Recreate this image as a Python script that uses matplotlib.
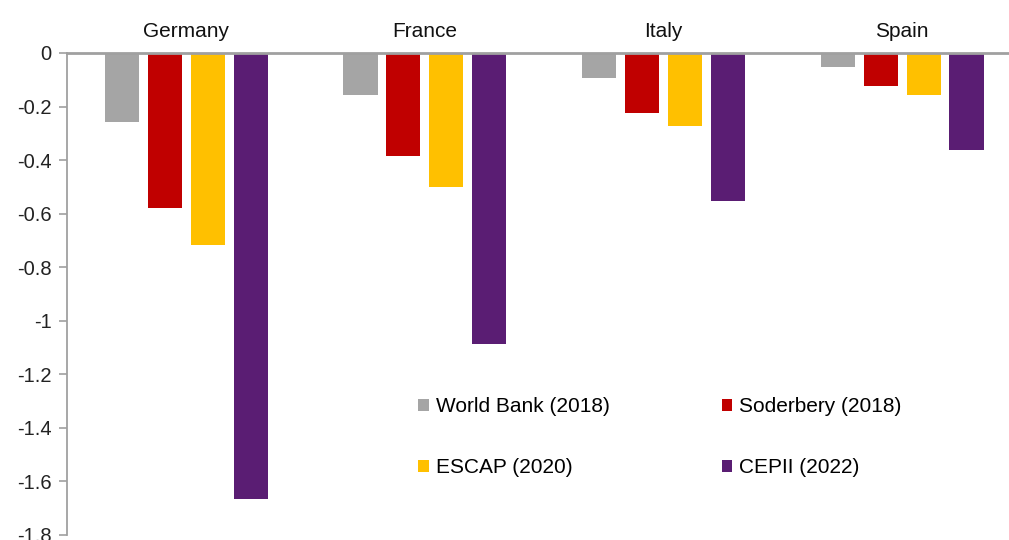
import matplotlib.pyplot as plt
import numpy as np
from matplotlib.patches import Patch

plt.rcParams["font.family"] = ["Liberation Sans", "DejaVu Sans"]

# --- data ----------------------------------------------------------------------
countries = ["Germany", "France", "Italy", "Spain"]
series = ["World Bank (2018)", "Soderbery (2018)", "ESCAP (2020)", "CEPII (2022)"]
world_bank = [-0.256, -0.157, -0.094, -0.051]
soderbery = [-0.577, -0.384, -0.223, -0.123]
escap = [-0.716, -0.499, -0.272, -0.157]
cepii = [-1.665, -1.086, -0.552, -0.362]
yticks = [0, -0.2, -0.4, -0.6, -0.8, -1, -1.2, -1.4, -1.6, -1.8]

colours = ["#A5A5A5", "#C00000", "#FFC000", "#5A1D73"]
values = [world_bank, soderbery, escap, cepii]

W, H = 1009, 540
fig = plt.figure(figsize=(W / 100, H / 100), dpi=100)
# axes runs off the right edge on purpose (the last group sits near the border)
ax = fig.add_axes([67 / W, 5 / H, 1.0, 482 / H])

x = np.arange(len(countries))
step, width = 0.18, 0.143
for i, (vals, col) in enumerate(zip(values, colours)):
    ax.bar(x + (i - 1.5) * step, vals, width=width, color=col, zorder=3)

ax.set_xlim(-0.5, -0.5 + W / 238.6)
ax.set_ylim(-1.8, 0)

ax.set_yticks(yticks)
ax.set_yticklabels([f"{t:g}" for t in yticks], fontsize=14.5, color="#222222")
ax.tick_params(axis="y", direction="out", length=6, width=1.2, color="#A0A0A0", pad=5)
ax.set_xticks([])

for s in ("right", "bottom"):
    ax.spines[s].set_visible(False)
ax.spines["left"].set_color("#A0A0A0")
ax.spines["left"].set_linewidth(1.3)
ax.spines["top"].set_color("#A0A0A0")
ax.spines["top"].set_linewidth(2.0)
ax.spines["top"].set_zorder(5)

# country names sit above the zero line
for xi, name in zip(x, countries):
    ax.text(xi, 0.045, name, ha="center", va="bottom", fontsize=15,
            color="#111111", clip_on=False)

order = [0, 2, 1, 3]
handles = [Patch(facecolor=colours[k], label=series[k]) for k in order]
fig.legend(handles=handles, ncol=2, frameon=False, fontsize=15,
           loc="upper left", bbox_to_anchor=(408 / W, 1 - 387 / H),
           borderpad=0, handlelength=0.5, handleheight=0.5, handletextpad=0.33,
           labelspacing=2.0, columnspacing=5.4)

fig.savefig("out.png", dpi=100)
